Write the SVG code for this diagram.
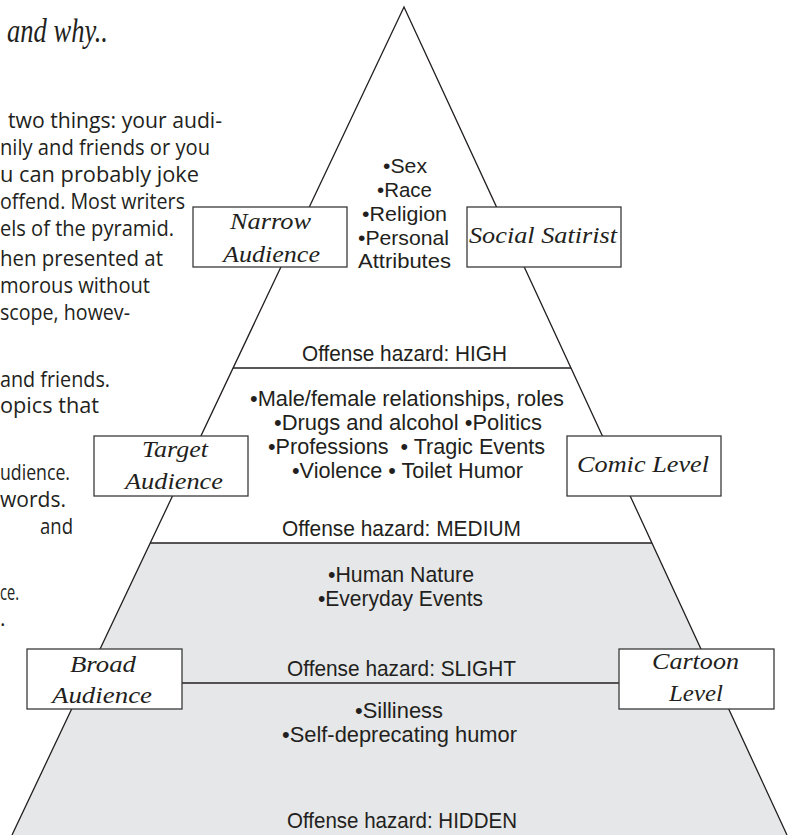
<svg xmlns="http://www.w3.org/2000/svg" width="793" height="835" viewBox="0 0 793 835">
<style>
.bg{fill:#ffffff}
.edge{stroke:#231f20;stroke-width:1.3;fill:none}
.shade{fill:#e6e7e8;stroke:none}
.box{fill:#ffffff;stroke:#3a3a3a;stroke-width:1.3}
.lbl{font-family:"Liberation Serif","Times New Roman",serif;font-style:italic;font-size:23px;fill:#231f20}
.pt{font-family:"Liberation Sans",Arial,sans-serif;font-size:22px;fill:#231f20}
.pt2{font-family:"Liberation Sans",Arial,sans-serif;font-size:20.5px;fill:#231f20}
.body{font-family:"Open Sans","Noto Sans",sans-serif;font-size:21px;fill:#231f20}
.hand{font-family:"Liberation Serif",serif;font-style:italic;font-size:34px;fill:#231f20}
</style>
<rect class="bg" x="0" y="0" width="793" height="835"/>

<g id="page-text">
<text class="hand" x="7" y="42" textLength="101" lengthAdjust="spacingAndGlyphs">and why..</text>
<text class="body" x="8" y="128" textLength="214" lengthAdjust="spacingAndGlyphs">two things: your audi-</text>
<text class="body" x="0" y="155" textLength="210" lengthAdjust="spacingAndGlyphs">nily and friends or you</text>
<text class="body" x="0" y="182" textLength="199" lengthAdjust="spacingAndGlyphs">u can probably joke</text>
<text class="body" x="0" y="209" textLength="185" lengthAdjust="spacingAndGlyphs">offend. Most writers</text>
<text class="body" x="0" y="236" textLength="174" lengthAdjust="spacingAndGlyphs">els of the pyramid.</text>
<text class="body" x="0" y="266" textLength="163" lengthAdjust="spacingAndGlyphs">hen presented at</text>
<text class="body" x="0" y="293" textLength="150" lengthAdjust="spacingAndGlyphs">morous without</text>
<text class="body" x="0" y="320" textLength="130" lengthAdjust="spacingAndGlyphs">scope, howev-</text>
<text class="body" x="0" y="387" textLength="110" lengthAdjust="spacingAndGlyphs">and friends.</text>
<text class="body" x="0" y="413" textLength="99" lengthAdjust="spacingAndGlyphs">opics that</text>
<text class="body" x="0" y="480" textLength="70" lengthAdjust="spacingAndGlyphs">udience.</text>
<text class="body" x="0" y="507" textLength="66" lengthAdjust="spacingAndGlyphs">words.</text>
<text class="body" x="40" y="534" textLength="33" lengthAdjust="spacingAndGlyphs">and</text>
<text class="body" x="0" y="600" textLength="19" lengthAdjust="spacingAndGlyphs">ce.</text>
<text class="body" x="0" y="626">.</text>
</g>

<g id="pyramid">
<polygon class="shade" points="150.3,543 652,543 787,835 12,835"/>
<polyline class="edge" points="12,835 404,7 787,835"/>
<line class="edge" x1="233" y1="368" x2="571" y2="368"/>
<line class="edge" x1="150.3" y1="543" x2="652" y2="543"/>
</g>

<g id="connectors">
<line class="edge" x1="182" y1="683" x2="619" y2="683"/>
</g>

<g id="tier-top">
<text class="pt2" x="383" y="173" textLength="44" lengthAdjust="spacingAndGlyphs">•Sex</text>
<text class="pt2" x="377" y="197" textLength="55" lengthAdjust="spacingAndGlyphs">•Race</text>
<text class="pt2" x="362" y="221" textLength="85" lengthAdjust="spacingAndGlyphs">•Religion</text>
<text class="pt2" x="358" y="245" textLength="91" lengthAdjust="spacingAndGlyphs">•Personal</text>
<text class="pt2" x="358" y="268" textLength="93" lengthAdjust="spacingAndGlyphs">Attributes</text>
<text class="pt" x="302" y="361" textLength="205" lengthAdjust="spacingAndGlyphs">Offense hazard: HIGH</text>
</g>

<g id="tier-middle">
<text class="pt" x="250" y="406" textLength="314" lengthAdjust="spacingAndGlyphs">•Male/female relationships, roles</text>
<text class="pt" x="274" y="430" textLength="268" lengthAdjust="spacingAndGlyphs">•Drugs and alcohol •Politics</text>
<text class="pt" x="268" y="454" textLength="277" lengthAdjust="spacingAndGlyphs" xml:space="preserve">•Professions  • Tragic Events</text>
<text class="pt" x="292" y="478" textLength="231" lengthAdjust="spacingAndGlyphs">•Violence • Toilet Humor</text>
<text class="pt" x="282" y="536" textLength="239" lengthAdjust="spacingAndGlyphs">Offense hazard: MEDIUM</text>
</g>

<g id="tier-lower">
<text class="pt" x="328" y="582" textLength="146" lengthAdjust="spacingAndGlyphs">•Human Nature</text>
<text class="pt" x="318" y="606" textLength="165" lengthAdjust="spacingAndGlyphs">•Everyday Events</text>
<text class="pt" x="287" y="676" textLength="229" lengthAdjust="spacingAndGlyphs">Offense hazard: SLIGHT</text>
</g>

<g id="tier-base">
<text class="pt" x="355" y="718" textLength="88" lengthAdjust="spacingAndGlyphs">•Silliness</text>
<text class="pt" x="282" y="742" textLength="235" lengthAdjust="spacingAndGlyphs">•Self-deprecating humor</text>
<text class="pt" x="287" y="828" textLength="230" lengthAdjust="spacingAndGlyphs">Offense hazard: HIDDEN</text>
</g>

<g id="narrow-audience">
<rect class="box" x="193" y="207" width="154" height="60"/>
<text class="lbl" x="230" y="229" textLength="81" lengthAdjust="spacingAndGlyphs">Narrow</text>
<text class="lbl" x="223" y="262" textLength="97" lengthAdjust="spacingAndGlyphs">Audience</text>
</g>

<g id="social-satirist">
<rect class="box" x="467" y="207" width="154" height="60"/>
<text class="lbl" x="469" y="243" textLength="148" lengthAdjust="spacingAndGlyphs">Social Satirist</text>
</g>

<g id="target-audience">
<rect class="box" x="94" y="436" width="154" height="60"/>
<text class="lbl" x="142" y="457" textLength="66" lengthAdjust="spacingAndGlyphs">Target</text>
<text class="lbl" x="125" y="489" textLength="98" lengthAdjust="spacingAndGlyphs">Audience</text>
</g>

<g id="comic-level">
<rect class="box" x="567" y="436" width="154" height="60"/>
<text class="lbl" x="577" y="472" textLength="132" lengthAdjust="spacingAndGlyphs">Comic Level</text>
</g>

<g id="broad-audience">
<rect class="box" x="27" y="649" width="155" height="60"/>
<text class="lbl" x="70" y="672" textLength="66" lengthAdjust="spacingAndGlyphs">Broad</text>
<text class="lbl" x="52" y="703" textLength="100" lengthAdjust="spacingAndGlyphs">Audience</text>
</g>

<g id="cartoon-level">
<rect class="box" x="619" y="649" width="155" height="60"/>
<text class="lbl" x="652" y="669" textLength="87" lengthAdjust="spacingAndGlyphs">Cartoon</text>
<text class="lbl" x="669" y="701" textLength="54" lengthAdjust="spacingAndGlyphs">Level</text>
</g>
</svg>
